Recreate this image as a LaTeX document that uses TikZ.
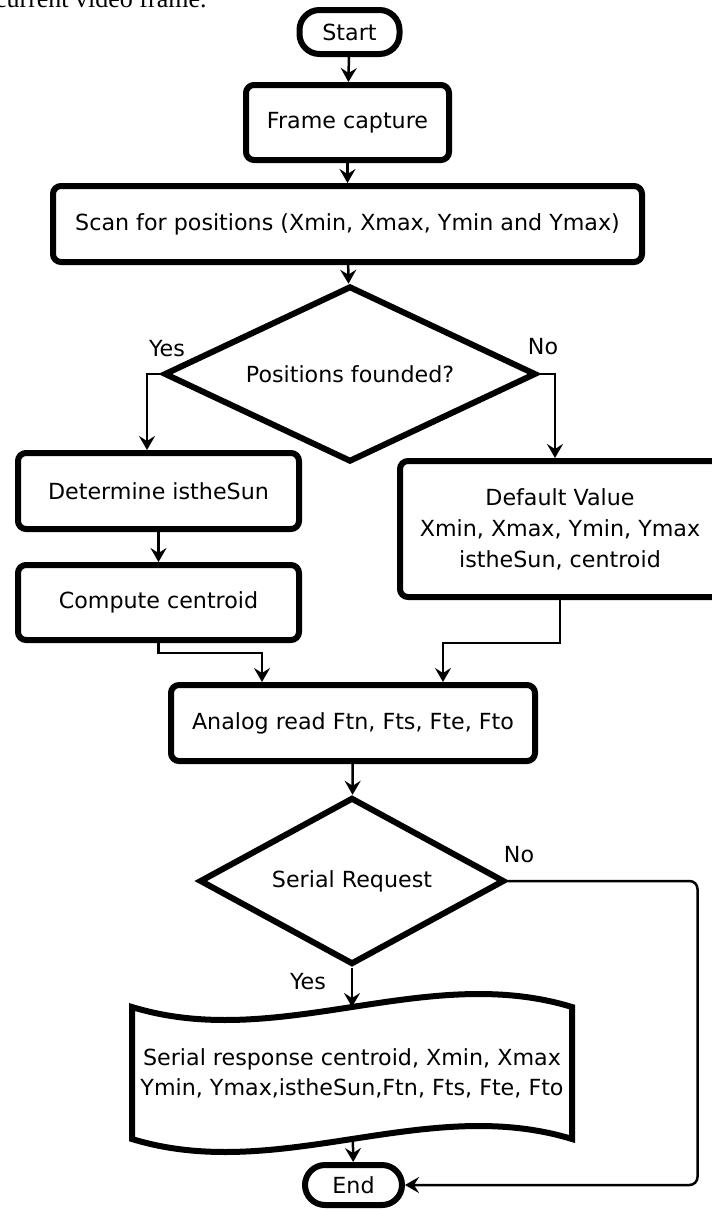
\documentclass[tikz,border=0pt]{standalone}
\usepackage{fontspec}
\setmainfont{DejaVu Sans}
\newfontfamily\capfont{Liberation Serif}
\usetikzlibrary{shapes.geometric, arrows.meta, backgrounds}
\tikzset{
  term/.style = {
    rectangle, draw=black, line width=3pt, rounded corners=10pt,
    inner sep=0pt, align=center
  },
  proc/.style = {
    rectangle, draw=black, line width=3pt, rounded corners=4pt,
    inner sep=0pt, align=center
  },
  decis/.style = {
    diamond, draw=black, line width=3pt, inner sep=0pt, align=center
  },
  docbox/.style = {
    rectangle, inner sep=0pt, outer sep=0pt, align=center,
    font=\fontsize{11.1pt}{15pt}\selectfont
  },
  lbl/.style = { inner sep=0pt },
  flow/.style = {
    draw=black, line width=1.25pt,
    -{Stealth[length=7pt, width=8pt, inset=2.5pt]}
  }
}

\begin{document}
\begin{tikzpicture}[x=0.5pt, y=-0.5pt, font=\fontsize{11.1pt}{15.5pt}\selectfont]

    \useasboundingbox (0,0) rectangle (712,1210);

    % ------------------------------------------------------------- Caption
    \node [lbl, anchor=base east, font=\capfont\fontsize{13pt}{15pt}\selectfont]
      (caption) at (207,8) {current video frame.};

    % ------------------------------------------------------------- Terminals
    \node [term, minimum width=50pt, minimum height=22pt] (start) at (349.5, 32)  {Start};
    \node [term, minimum width=48.5pt, minimum height=20pt] (end) at (353.5,1185) {End};

    % ------------------------------------------------------------- Processes
    \node [proc, minimum width=101.5pt, minimum height=37.5pt] (frame)    at (347.5,122.5) {Frame capture};
    \node [proc, minimum width=294.5pt, minimum height=38pt]   (scan)     at (347.5,224)   {Scan for positions (Xmin, Xmax, Ymin and Ymax)};
    \node [proc, minimum width=140.5pt, minimum height=38pt]   (isthesun) at (158.5,491)   {Determine istheSun};
    \node [proc, minimum width=140.5pt, minimum height=37.5pt] (centroid) at (158.5,602.5) {Compute centroid};
    \node [proc, minimum width=160pt,   minimum height=68pt]   (default)  at (560,529)     {Default Value\\Xmin, Xmax, Ymin, Ymax\\istheSun, centroid};
    \node [proc, minimum width=182pt,   minimum height=38pt]   (analog)   at (353,723)     {Analog read Ftn, Fts, Fte, Fto};

    % ------------------------------------------------------------- Decisions
    \node [decis, aspect=2.11, minimum width=186pt,   minimum height=88pt]   (posq)    at (350,374) {Positions founded?};
    \node [decis, aspect=1.83, minimum width=152.5pt, minimum height=83.5pt] (serialq) at (352,881) {Serial Request};

    % ------------------------------------------------------------- Document
    \node [docbox, minimum width=220pt, minimum height=66pt] (resp) at (352,1073)
      {Serial response centroid, Xmin, Xmax\\Ymin, Ymax,istheSun,Ftn, Fts, Fte, Fto};
    \draw [line width=3pt]
      (resp.north west) .. controls +(147,45) and +(-147,-45) .. (resp.north east)
      -- (resp.south east) .. controls +(-147,-45) and +(147,45) .. (resp.south west)
      -- cycle;

    % ------------------------------------------------------------- Labels
    \node [lbl] (yes1) at (167,349) {Yes};
    \node [lbl] (no1)  at (543,347) {No};
    \node [lbl] (no2)  at (519,855) {No};
    \node [lbl] (yes2) at (308,982) {Yes};

    % ----------------------------------------- Connectors (behind the shapes)
    \begin{scope}[on background layer]
      \draw [flow] (start) -- (frame);
      \draw [flow] (frame) -- (scan);
      \draw [flow] (scan)  -- (posq);

      % -------- yes / no branches
      \draw [flow] (posq.west) -| ([xshift=-5.75pt]isthesun.north);
      \draw [flow] (posq.east) -| ([xshift=-2.5pt]default.north);
      \draw [flow] (isthesun) -- (centroid);

      % -------- merge into analog read
      \draw [flow] (centroid.south) -- ++(0,10) -| ([xshift=-45.5pt]analog.north);
      \draw [flow] (default.south)  -- ++(0,43) -| ([xshift=45pt]analog.north);

      % -------- serial part
      \draw [flow] (analog)  -- (serialq);
      \draw [flow] (serialq) -- (resp);
      \draw [flow] (resp)    -- (end);
      \draw [flow, rounded corners=4pt] (serialq.east) -- ++(190,0) |- (end.east);
    \end{scope}

\end{tikzpicture}
\end{document}
